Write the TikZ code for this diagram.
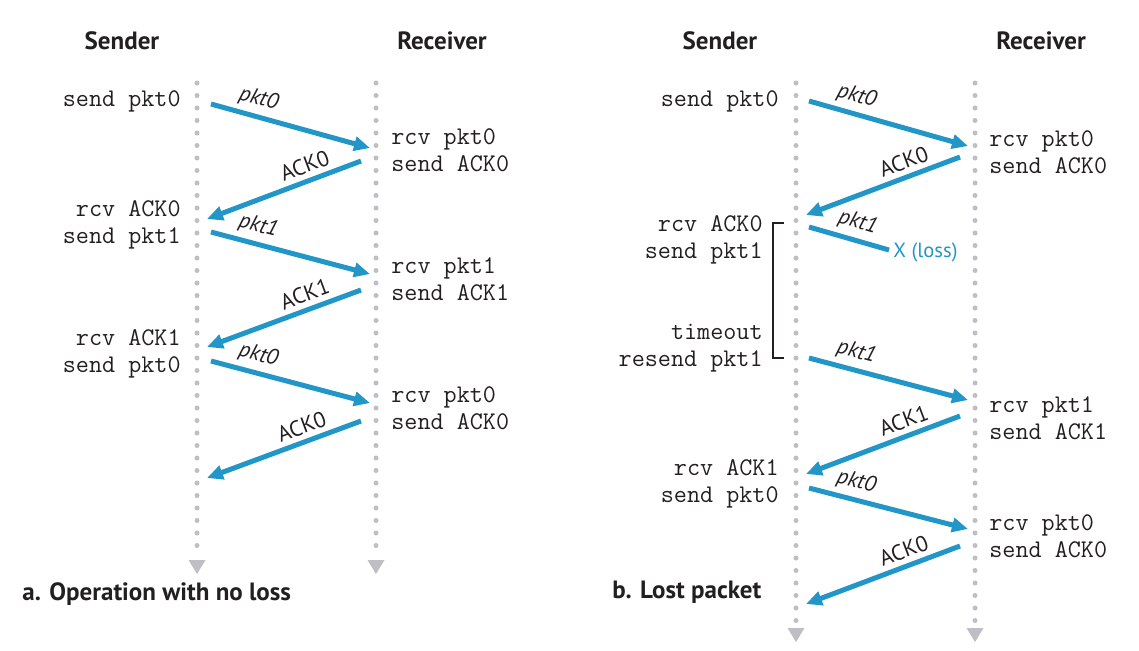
\documentclass[tikz,border=0pt]{standalone}
\usepackage{fontspec}
\setmainfont{PT Sans}
\usetikzlibrary{arrows.meta}
\definecolor{flow}{RGB}{33,150,199}
\definecolor{life}{RGB}{190,190,196}
\definecolor{ink}{RGB}{35,31,32}

\begin{document}
\begin{tikzpicture}[x=0.5pt,y=-0.5pt,
  msg/.style={draw=flow, line width=2.5pt, -{Triangle[length=8pt,width=7pt]}},
  lostmsg/.style={draw=flow, line width=2.5pt},
  lifeline/.style={draw=life, line width=2.5pt, line cap=round, dash pattern=on 0pt off 6.25pt},
  endtip/.style={fill=life, draw=none},
  actl/.style={font=\fontsize{12.7}{13.5}\selectfont\ttfamily, text=ink, align=right, anchor=east, inner sep=0pt},
  actr/.style={font=\fontsize{12.7}{13.5}\selectfont\ttfamily, text=ink, align=left, anchor=west, inner sep=0pt},
  head/.style={font=\fontsize{12.5}{14}\selectfont\bfseries, text=ink},
  caption/.style={font=\fontsize{12.5}{14}\selectfont\bfseries, text=ink, anchor=west, inner sep=0pt},
  lab/.style={font=\fontsize{11}{12}\selectfont\itshape, text=ink, sloped, above=1.5pt, inner sep=1pt},
  acklab/.style={font=\fontsize{11}{12}\selectfont, text=ink, sloped, above=1.5pt, inner sep=1pt},
]
\useasboundingbox (0,0) rectangle (1139,650);

% ---------- lifelines ----------
\coordinate (sa-top) at (197,83);  \coordinate (sa-bot) at (197,553);
\coordinate (ra-top) at (376,83);  \coordinate (ra-bot) at (376,553);
\coordinate (sb-top) at (796,83);  \coordinate (sb-bot) at (796,621);
\coordinate (rb-top) at (975,83);  \coordinate (rb-bot) at (975,621);
\foreach \l in {sa,ra,sb,rb}{
  \draw[lifeline] (\l-top) -- (\l-bot);
  \fill[endtip] ([shift={(-8.5,7)}]\l-bot) -- ([shift={(8.5,7)}]\l-bot) -- ([shift={(0,21)}]\l-bot) -- cycle;
}

% ---------- headings ----------
\node[head] (hsa) at (122,41) {Sender};
\node[head] (hra) at (442,41) {Receiver};
\node[head] (hsb) at (720,41) {Sender};
\node[head] (hrb) at (1041,41) {Receiver};

% ---------- panel a: operation with no loss ----------
\node[actl] (a-s1) at (181,101) {send pkt0};
\node[actl] (a-s2) at (181,224.5) {rcv ACK0\\send pkt1};
\node[actl] (a-s3) at (181,353.5) {rcv ACK1\\send pkt0};
\node[actr] (a-r1) at (391,150.5) {rcv pkt0\\send ACK0};
\node[actr] (a-r2) at (391,279.5) {rcv pkt1\\send ACK1};
\node[actr] (a-r3) at (391,408.5) {rcv pkt0\\send ACK0};

\coordinate (a1s) at (211,104); \coordinate (a1e) at (370,148);
\coordinate (a2s) at (361,161); \coordinate (a2e) at (207,219);
\coordinate (a3s) at (211,232); \coordinate (a3e) at (370,274);
\coordinate (a4s) at (361,290); \coordinate (a4e) at (207,347);
\coordinate (a5s) at (211,361); \coordinate (a5e) at (370,403);
\coordinate (a6s) at (361,421); \coordinate (a6e) at (207,478);

\draw[msg] (a1s) -- node[lab, pos=0.27] {pkt0} (a1e);
\draw[msg] (a2s) -- node[acklab, pos=0.33] {ACK0} (a2e);
\draw[msg] (a3s) -- node[lab, pos=0.27] {pkt1} (a3e);
\draw[msg] (a4s) -- node[acklab, pos=0.33] {ACK1} (a4e);
\draw[msg] (a5s) -- node[lab, pos=0.27] {pkt0} (a5e);
\draw[msg] (a6s) -- node[acklab, pos=0.35] {ACK0} (a6e);

\node[caption] (capa) at (22,594) {a. Operation with no loss};

% ---------- panel b: lost packet ----------
\node[actl] (b-s1) at (779,101) {send pkt0};
\node[actl] (b-s2) at (763,240) {rcv ACK0\\send pkt1};
\node[actl] (b-s3) at (763,348.5) {timeout\\resend pkt1};
\node[actl] (b-s4) at (779,483.5) {rcv ACK1\\send pkt0};
\node[actr] (b-r1) at (989,152.5) {rcv pkt0\\send ACK0};
\node[actr] (b-r2) at (989,418.5) {rcv pkt1\\send ACK1};
\node[actr] (b-r3) at (989,536.5) {rcv pkt0\\send ACK0};

% timer bracket between sending and resending pkt1
\coordinate (br-top) at (784,223); \coordinate (br-bot) at (784,358);
\draw[ink, line width=0.6pt] (br-top) -- ++(-11,0) |- (br-bot);

\coordinate (b1s) at (809,101); \coordinate (b1e) at (968,146);
\coordinate (b2s) at (960,157); \coordinate (b2e) at (806,215);
\coordinate (b3s) at (809,227); \coordinate (b3e) at (889,250);
\coordinate (b4s) at (809,358); \coordinate (b4e) at (968,400);
\coordinate (b5s) at (960,416); \coordinate (b5e) at (806,474);
\coordinate (b6s) at (809,488); \coordinate (b6e) at (968,529);
\coordinate (b7s) at (960,546); \coordinate (b7e) at (806,604);

\draw[msg] (b1s) -- node[lab, pos=0.27] {pkt0} (b1e);
\draw[msg] (b2s) -- node[acklab, pos=0.33] {ACK0} (b2e);
\draw[lostmsg] (b3s) -- node[lab, pos=0.55] {pkt1} (b3e);
\node[font=\fontsize{10.3}{12}\selectfont, text=flow, anchor=west, inner sep=0pt] (loss) at ([shift={(4,2)}]b3e) {X (loss)};
\draw[msg] (b4s) -- node[lab, pos=0.27] {pkt1} (b4e);
\draw[msg] (b5s) -- node[acklab, pos=0.33] {ACK1} (b5e);
\draw[msg] (b6s) -- node[lab, pos=0.27] {pkt0} (b6e);
\draw[msg] (b7s) -- node[acklab, pos=0.33] {ACK0} (b7e);

\node[caption] (capb) at (612,592) {b. Lost packet};
\end{tikzpicture}
\end{document}
